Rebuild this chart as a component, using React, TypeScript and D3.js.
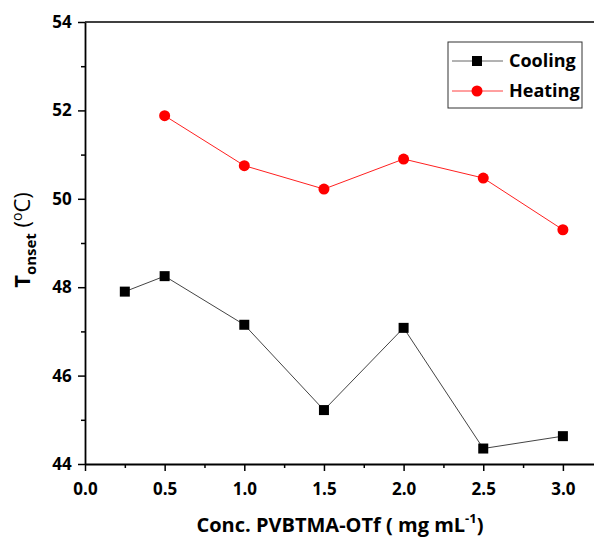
import React, { useEffect, useRef } from "react";
import * as d3 from "d3";

const concCooling = [0.25, 0.5, 1.0, 1.5, 2.0, 2.5, 3.0];
const tCooling = [47.9, 48.25, 47.15, 45.22, 47.08, 44.35, 44.63];
const concHeating = [0.5, 1.0, 1.5, 2.0, 2.5, 3.0];
const tHeating = [51.88, 50.75, 50.22, 50.9, 50.47, 49.3];
const xTicks = [0, 0.5, 1.0, 1.5, 2.0, 2.5, 3.0];
const yTicks = [44, 46, 48, 50, 52, 54];

const W = 594;
const H = 545;
const FONT = "'Open Sans', 'Liberation Sans', sans-serif";

export default function App() {
  const ref = useRef<SVGSVGElement>(null);

  useEffect(() => {
    const svg = d3.select(ref.current);
    svg.selectAll("*").remove();

    const left = 85, top = 22, bottom = 464;
    const x = d3.scaleLinear().domain([0, 3.2]).range([left, left + 3.2 * 159.3]);
    const y = d3.scaleLinear().domain([44, 54]).range([bottom, top]);

    // frame top line
    svg.append("line").attr("x1", left).attr("x2", W).attr("y1", top).attr("y2", top)
      .attr("stroke", "#000").attr("stroke-width", 1.5);

    // minor ticks
    const minorX = d3.range(0.25, 3.2, 0.5);
    const minorY = d3.range(45, 54, 2);

    const xAxis = svg.append("g").attr("transform", `translate(0,${bottom})`)
      .call(d3.axisBottom(x).tickValues(xTicks).tickFormat(d3.format(".1f")).tickSize(7).tickSizeOuter(0));
    svg.append("g").attr("transform", `translate(0,${bottom})`)
      .call(d3.axisBottom(x).tickValues(minorX).tickFormat(() => "").tickSize(4).tickSizeOuter(0))
      .select(".domain").remove();
    const yAxis = svg.append("g").attr("transform", `translate(${left},0)`)
      .call(d3.axisLeft(y).tickValues(yTicks).tickFormat(d3.format("d")).tickSize(7).tickSizeOuter(0));
    svg.append("g").attr("transform", `translate(${left},0)`)
      .call(d3.axisLeft(y).tickValues(minorY).tickFormat(() => "").tickSize(4).tickSizeOuter(0))
      .select(".domain").remove();

    svg.selectAll(".tick line").attr("stroke-width", 1.5);
    svg.selectAll(".domain").attr("stroke-width", 1.8);
    xAxis.selectAll("text").attr("font-family", FONT).attr("font-weight", "bold")
      .attr("font-size", 17).attr("dy", "1.25em").attr("fill", "#000");
    yAxis.selectAll("text").attr("font-family", FONT).attr("font-weight", "bold")
      .attr("font-size", 17).attr("dx", "-0.2em").attr("fill", "#000");

    const cool = concCooling.map((c, i) => [c, tCooling[i]] as [number, number]);
    const heat = concHeating.map((c, i) => [c, tHeating[i]] as [number, number]);
    const line = d3.line<[number, number]>().x((d) => x(d[0])).y((d) => y(d[1]));

    svg.append("path").attr("d", line(cool)).attr("fill", "none").attr("stroke", "#444").attr("stroke-width", 1);
    svg.append("path").attr("d", line(heat)).attr("fill", "none").attr("stroke", "#ff2020").attr("stroke-width", 1);

    svg.selectAll(".sq").data(cool).enter().append("rect")
      .attr("x", (d) => x(d[0]) - 5).attr("y", (d) => y(d[1]) - 5)
      .attr("width", 10).attr("height", 10).attr("fill", "#000");
    svg.selectAll(".ci").data(heat).enter().append("circle")
      .attr("cx", (d) => x(d[0])).attr("cy", (d) => y(d[1])).attr("r", 5.5).attr("fill", "#ff0000");

    // legend
    const lg = svg.append("g");
    lg.append("rect").attr("x", 448).attr("y", 42).attr("width", 134).attr("height", 66)
      .attr("fill", "#fff").attr("stroke", "#333").attr("stroke-width", 1);
    lg.append("line").attr("x1", 452).attr("x2", 503).attr("y1", 61).attr("y2", 61).attr("stroke", "#666");
    lg.append("rect").attr("x", 472).attr("y", 56).attr("width", 10).attr("height", 10).attr("fill", "#000");
    lg.append("text").attr("x", 509).attr("y", 67).text("Cooling");
    lg.append("line").attr("x1", 452).attr("x2", 503).attr("y1", 91).attr("y2", 91).attr("stroke", "#ff4040");
    lg.append("circle").attr("cx", 477).attr("cy", 91).attr("r", 5.5).attr("fill", "#ff0000");
    lg.append("text").attr("x", 509).attr("y", 97).text("Heating");
    lg.selectAll("text").attr("font-family", FONT).attr("font-weight", "bold").attr("font-size", 18);

    // x title
    const xt = svg.append("text").attr("x", 340).attr("y", 532).attr("text-anchor", "middle")
      .attr("font-family", FONT).attr("font-weight", "bold").attr("font-size", 20);
    xt.append("tspan").text("Conc. PVBTMA-OTf ( mg mL");
    xt.append("tspan").attr("font-size", 13).attr("dy", -9).text("-1");
    xt.append("tspan").attr("dy", 9).text(")");

    // y title
    const yt = svg.append("text").attr("transform", "translate(30,240) rotate(-90)")
      .attr("text-anchor", "middle").attr("font-family", FONT).attr("font-size", 22);
    yt.append("tspan").attr("font-weight", "bold").text("T");
    yt.append("tspan").attr("font-weight", "bold").attr("font-size", 15).attr("dy", 6).text("onset");
    yt.append("tspan").attr("dy", -6).text(" (");
    yt.append("tspan").attr("font-size", 14).attr("dy", -8).text("o");
    yt.append("tspan").attr("dy", 8).text("C)");
  }, []);

  return <svg ref={ref} width={W} height={H} style={{ position: "absolute", left: 0, top: 0 }} />;
}
